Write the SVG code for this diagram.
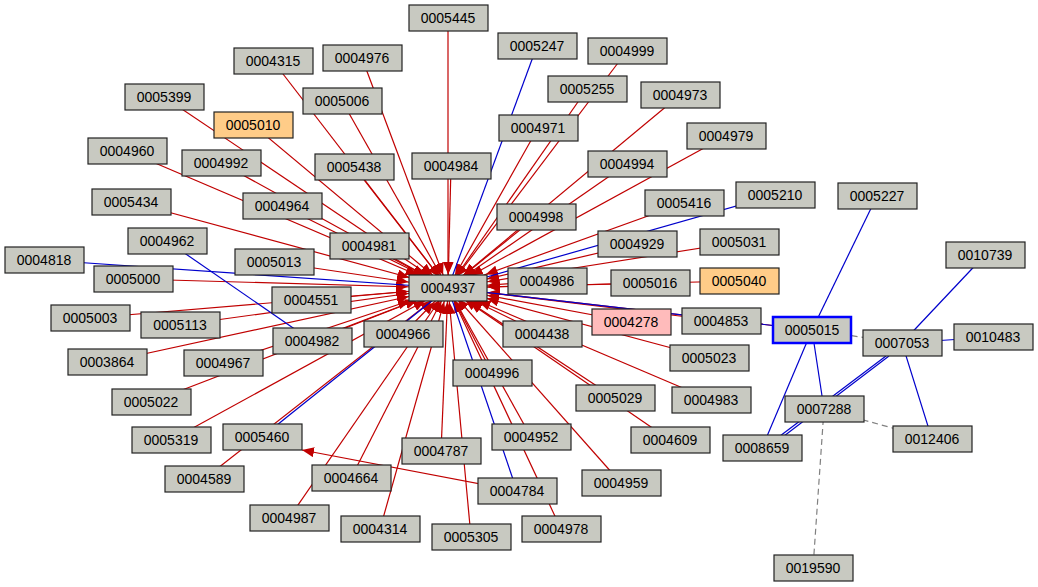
<svg xmlns="http://www.w3.org/2000/svg" width="1038" height="587" viewBox="0 0 1038 587">
<style>
.n rect{fill:#c8c9c1;stroke:#222;stroke-width:1.2}
.n text{font-family:"Liberation Sans",Arial,sans-serif;font-size:14px;text-anchor:middle;fill:#000}
.r{stroke:#c00000;stroke-width:1.2;fill:none}
.b{stroke:#0000cc;stroke-width:1.2;fill:none}
.g{stroke:#808080;stroke-width:1.2;fill:none;stroke-dasharray:6,4}
</style>
<defs>
<marker id="a14" markerUnits="userSpaceOnUse" markerWidth="12" markerHeight="10" refX="26" refY="5" orient="auto"><path d="M0,0L12,5L0,10z" fill="#c00000"/></marker>
<marker id="a20" markerUnits="userSpaceOnUse" markerWidth="12" markerHeight="10" refX="32" refY="5" orient="auto"><path d="M0,0L12,5L0,10z" fill="#c00000"/></marker>
<marker id="a26" markerUnits="userSpaceOnUse" markerWidth="12" markerHeight="10" refX="38" refY="5" orient="auto"><path d="M0,0L12,5L0,10z" fill="#c00000"/></marker>
<marker id="a33" markerUnits="userSpaceOnUse" markerWidth="12" markerHeight="10" refX="45" refY="5" orient="auto"><path d="M0,0L12,5L0,10z" fill="#c00000"/></marker>
<marker id="a40" markerUnits="userSpaceOnUse" markerWidth="12" markerHeight="10" refX="52" refY="5" orient="auto"><path d="M0,0L12,5L0,10z" fill="#c00000"/></marker>
<marker id="a0" markerUnits="userSpaceOnUse" markerWidth="12" markerHeight="10" refX="12" refY="5" orient="auto"><path d="M0,0L12,5L0,10z" fill="#c00000"/></marker>
</defs>
<g id="edges">
<line class="r" x1="448" y1="18" x2="448" y2="288" marker-end="url(#a14)"/>
<line class="r" x1="627" y1="51" x2="448" y2="288" marker-end="url(#a14)"/>
<line class="r" x1="273" y1="61" x2="448" y2="288" marker-end="url(#a14)"/>
<line class="r" x1="362" y1="58" x2="448" y2="288" marker-end="url(#a14)"/>
<line class="r" x1="587" y1="89" x2="448" y2="288" marker-end="url(#a14)"/>
<line class="r" x1="680" y1="95" x2="448" y2="288" marker-end="url(#a20)"/>
<line class="r" x1="164" y1="97" x2="448" y2="288" marker-end="url(#a20)"/>
<line class="r" x1="342" y1="101" x2="448" y2="288" marker-end="url(#a14)"/>
<line class="r" x1="253" y1="125" x2="448" y2="288" marker-end="url(#a20)"/>
<line class="r" x1="538" y1="128" x2="448" y2="288" marker-end="url(#a14)"/>
<line class="r" x1="726" y1="136" x2="448" y2="288" marker-end="url(#a26)"/>
<line class="r" x1="127" y1="151" x2="448" y2="288" marker-end="url(#a33)"/>
<line class="r" x1="221" y1="163" x2="448" y2="288" marker-end="url(#a26)"/>
<line class="r" x1="354" y1="167" x2="448" y2="288" marker-end="url(#a14)"/>
<line class="r" x1="451" y1="166" x2="448" y2="288" marker-end="url(#a14)"/>
<line class="r" x1="627" y1="164" x2="448" y2="288" marker-end="url(#a20)"/>
<line class="r" x1="131" y1="202" x2="448" y2="288" marker-end="url(#a40)"/>
<line class="r" x1="282" y1="206" x2="448" y2="288" marker-end="url(#a26)"/>
<line class="r" x1="684" y1="203" x2="448" y2="288" marker-end="url(#a40)"/>
<line class="r" x1="536" y1="217" x2="448" y2="288" marker-end="url(#a20)"/>
<line class="r" x1="369" y1="246" x2="448" y2="288" marker-end="url(#a26)"/>
<line class="r" x1="637" y1="244" x2="448" y2="288" marker-end="url(#a40)"/>
<line class="r" x1="739" y1="242" x2="448" y2="288" marker-end="url(#a40)"/>
<line class="r" x1="274" y1="262" x2="448" y2="288" marker-end="url(#a40)"/>
<line class="r" x1="133" y1="279" x2="448" y2="288" marker-end="url(#a40)"/>
<line class="r" x1="547" y1="281" x2="448" y2="288" marker-end="url(#a40)"/>
<line class="r" x1="650" y1="283" x2="448" y2="288" marker-end="url(#a40)"/>
<line class="r" x1="739" y1="281" x2="448" y2="288" marker-end="url(#a40)"/>
<line class="r" x1="311" y1="300" x2="448" y2="288" marker-end="url(#a40)"/>
<line class="r" x1="90" y1="318" x2="448" y2="288" marker-end="url(#a40)"/>
<line class="r" x1="180" y1="325" x2="448" y2="288" marker-end="url(#a40)"/>
<line class="r" x1="631" y1="322" x2="448" y2="288" marker-end="url(#a40)"/>
<line class="r" x1="721" y1="321" x2="448" y2="288" marker-end="url(#a40)"/>
<line class="r" x1="812" y1="330" x2="448" y2="288" marker-end="url(#a40)"/>
<line class="r" x1="542" y1="334" x2="448" y2="288" marker-end="url(#a26)"/>
<line class="r" x1="403" y1="334" x2="448" y2="288" marker-end="url(#a20)"/>
<line class="r" x1="312" y1="341" x2="448" y2="288" marker-end="url(#a33)"/>
<line class="r" x1="107" y1="362" x2="448" y2="288" marker-end="url(#a40)"/>
<line class="r" x1="223" y1="363" x2="448" y2="288" marker-end="url(#a40)"/>
<line class="r" x1="709" y1="358" x2="448" y2="288" marker-end="url(#a40)"/>
<line class="r" x1="492" y1="373" x2="448" y2="288" marker-end="url(#a14)"/>
<line class="r" x1="151" y1="402" x2="448" y2="288" marker-end="url(#a33)"/>
<line class="r" x1="615" y1="398" x2="448" y2="288" marker-end="url(#a26)"/>
<line class="r" x1="711" y1="400" x2="448" y2="288" marker-end="url(#a33)"/>
<line class="r" x1="171" y1="440" x2="448" y2="288" marker-end="url(#a26)"/>
<line class="r" x1="531" y1="437" x2="448" y2="288" marker-end="url(#a14)"/>
<line class="r" x1="670" y1="440" x2="448" y2="288" marker-end="url(#a20)"/>
<line class="r" x1="441" y1="451" x2="448" y2="288" marker-end="url(#a14)"/>
<line class="r" x1="204" y1="479" x2="448" y2="288" marker-end="url(#a20)"/>
<line class="r" x1="351" y1="478" x2="448" y2="288" marker-end="url(#a14)"/>
<line class="r" x1="621" y1="483" x2="448" y2="288" marker-end="url(#a14)"/>
<line class="r" x1="289" y1="518" x2="448" y2="288" marker-end="url(#a14)"/>
<line class="r" x1="380" y1="529" x2="448" y2="288" marker-end="url(#a14)"/>
<line class="r" x1="471" y1="537" x2="448" y2="288" marker-end="url(#a14)"/>
<line class="r" x1="561" y1="529" x2="448" y2="288" marker-end="url(#a14)"/>
<line class="r" x1="517" y1="491" x2="302" y2="450" marker-end="url(#a0)"/>
<line class="b" x1="448" y1="288" x2="537" y2="46"/>
<line class="b" x1="448" y1="288" x2="44" y2="260"/>
<line class="b" x1="448" y1="288" x2="775" y2="195"/>
<line class="b" x1="448" y1="288" x2="262" y2="437"/>
<line class="b" x1="448" y1="288" x2="517" y2="491"/>
<line class="b" x1="448" y1="288" x2="812" y2="330"/>
<line class="b" x1="167" y1="241" x2="312" y2="341"/>
<line class="b" x1="812" y1="330" x2="877" y2="196"/>
<line class="b" x1="812" y1="330" x2="762" y2="448"/>
<line class="b" x1="812" y1="330" x2="824" y2="409"/>
<line class="b" x1="902" y1="343" x2="985" y2="255"/>
<line class="b" x1="902" y1="343" x2="993" y2="337"/>
<line class="b" x1="902" y1="343" x2="932" y2="439"/>
<line class="b" x1="886" y1="356" x2="780" y2="436"/>
<line class="b" x1="889" y1="356" x2="784" y2="436"/>
<line class="g" x1="812" y1="330" x2="902" y2="343"/>
<line class="g" x1="824" y1="409" x2="932" y2="439"/>
<line class="g" x1="824" y1="409" x2="813" y2="568"/>
</g>
<g class="n" id="n0005445"><rect x="409" y="5" width="79" height="26"/><text x="448" y="23">0005445</text></g>
<g class="n" id="n0005247"><rect x="498" y="33" width="79" height="26"/><text x="537" y="51">0005247</text></g>
<g class="n" id="n0004999"><rect x="588" y="38" width="79" height="26"/><text x="627" y="56">0004999</text></g>
<g class="n" id="n0004315"><rect x="234" y="48" width="79" height="26"/><text x="273" y="66">0004315</text></g>
<g class="n" id="n0004976"><rect x="323" y="45" width="79" height="26"/><text x="362" y="63">0004976</text></g>
<g class="n" id="n0005255"><rect x="548" y="76" width="79" height="26"/><text x="587" y="94">0005255</text></g>
<g class="n" id="n0004973"><rect x="641" y="82" width="79" height="26"/><text x="680" y="100">0004973</text></g>
<g class="n" id="n0005399"><rect x="125" y="84" width="79" height="26"/><text x="164" y="102">0005399</text></g>
<g class="n" id="n0005006"><rect x="303" y="88" width="79" height="26"/><text x="342" y="106">0005006</text></g>
<g class="n" id="n0005010"><rect x="214" y="112" width="79" height="26" style="fill:#ffcc88"/><text x="253" y="130">0005010</text></g>
<g class="n" id="n0004971"><rect x="499" y="115" width="79" height="26"/><text x="538" y="133">0004971</text></g>
<g class="n" id="n0004979"><rect x="687" y="123" width="79" height="26"/><text x="726" y="141">0004979</text></g>
<g class="n" id="n0004960"><rect x="88" y="138" width="79" height="26"/><text x="127" y="156">0004960</text></g>
<g class="n" id="n0004992"><rect x="182" y="150" width="79" height="26"/><text x="221" y="168">0004992</text></g>
<g class="n" id="n0005438"><rect x="315" y="154" width="79" height="26"/><text x="354" y="172">0005438</text></g>
<g class="n" id="n0004984"><rect x="412" y="153" width="79" height="26"/><text x="451" y="171">0004984</text></g>
<g class="n" id="n0004994"><rect x="588" y="151" width="79" height="26"/><text x="627" y="169">0004994</text></g>
<g class="n" id="n0005434"><rect x="92" y="189" width="79" height="26"/><text x="131" y="207">0005434</text></g>
<g class="n" id="n0004964"><rect x="243" y="193" width="79" height="26"/><text x="282" y="211">0004964</text></g>
<g class="n" id="n0005416"><rect x="645" y="190" width="79" height="26"/><text x="684" y="208">0005416</text></g>
<g class="n" id="n0005210"><rect x="736" y="182" width="79" height="26"/><text x="775" y="200">0005210</text></g>
<g class="n" id="n0005227"><rect x="838" y="183" width="79" height="26"/><text x="877" y="201">0005227</text></g>
<g class="n" id="n0004998"><rect x="497" y="204" width="79" height="26"/><text x="536" y="222">0004998</text></g>
<g class="n" id="n0004962"><rect x="128" y="228" width="79" height="26"/><text x="167" y="246">0004962</text></g>
<g class="n" id="n0004981"><rect x="330" y="233" width="79" height="26"/><text x="369" y="251">0004981</text></g>
<g class="n" id="n0004929"><rect x="598" y="231" width="79" height="26"/><text x="637" y="249">0004929</text></g>
<g class="n" id="n0005031"><rect x="700" y="229" width="79" height="26"/><text x="739" y="247">0005031</text></g>
<g class="n" id="n0010739"><rect x="946" y="242" width="79" height="26"/><text x="985" y="260">0010739</text></g>
<g class="n" id="n0004818"><rect x="5" y="247" width="79" height="26"/><text x="44" y="265">0004818</text></g>
<g class="n" id="n0005013"><rect x="235" y="249" width="79" height="26"/><text x="274" y="267">0005013</text></g>
<g class="n" id="n0005000"><rect x="94" y="266" width="79" height="26"/><text x="133" y="284">0005000</text></g>
<g class="n" id="n0004986"><rect x="508" y="268" width="79" height="26"/><text x="547" y="286">0004986</text></g>
<g class="n" id="n0005016"><rect x="611" y="270" width="79" height="26"/><text x="650" y="288">0005016</text></g>
<g class="n" id="n0005040"><rect x="700" y="268" width="79" height="26" style="fill:#ffcc88"/><text x="739" y="286">0005040</text></g>
<g class="n" id="n0004551"><rect x="272" y="287" width="79" height="26"/><text x="311" y="305">0004551</text></g>
<g class="n" id="n0005003"><rect x="51" y="305" width="79" height="26"/><text x="90" y="323">0005003</text></g>
<g class="n" id="n0005113"><rect x="141" y="312" width="79" height="26"/><text x="180" y="330">0005113</text></g>
<g class="n" id="n0004278"><rect x="592" y="309" width="79" height="26" style="fill:#ffbbbb"/><text x="631" y="327">0004278</text></g>
<g class="n" id="n0004853"><rect x="682" y="308" width="79" height="26"/><text x="721" y="326">0004853</text></g>
<g class="n" id="n0004438"><rect x="503" y="321" width="79" height="26"/><text x="542" y="339">0004438</text></g>
<g class="n" id="n0004966"><rect x="364" y="321" width="79" height="26"/><text x="403" y="339">0004966</text></g>
<g class="n" id="n0004982"><rect x="273" y="328" width="79" height="26"/><text x="312" y="346">0004982</text></g>
<g class="n" id="n0005015"><rect x="773" y="317" width="78" height="26" style="stroke:#0000ff;stroke-width:2.5"/><text x="812" y="335">0005015</text></g>
<g class="n" id="n0007053"><rect x="863" y="330" width="79" height="26"/><text x="902" y="348">0007053</text></g>
<g class="n" id="n0010483"><rect x="954" y="324" width="79" height="26"/><text x="993" y="342">0010483</text></g>
<g class="n" id="n0003864"><rect x="68" y="349" width="79" height="26"/><text x="107" y="367">0003864</text></g>
<g class="n" id="n0004967"><rect x="184" y="350" width="79" height="26"/><text x="223" y="368">0004967</text></g>
<g class="n" id="n0005023"><rect x="670" y="345" width="79" height="26"/><text x="709" y="363">0005023</text></g>
<g class="n" id="n0004996"><rect x="453" y="360" width="79" height="26"/><text x="492" y="378">0004996</text></g>
<g class="n" id="n0005022"><rect x="112" y="389" width="79" height="26"/><text x="151" y="407">0005022</text></g>
<g class="n" id="n0005029"><rect x="576" y="385" width="79" height="26"/><text x="615" y="403">0005029</text></g>
<g class="n" id="n0004983"><rect x="672" y="387" width="79" height="26"/><text x="711" y="405">0004983</text></g>
<g class="n" id="n0007288"><rect x="785" y="396" width="79" height="26"/><text x="824" y="414">0007288</text></g>
<g class="n" id="n0005319"><rect x="132" y="427" width="79" height="26"/><text x="171" y="445">0005319</text></g>
<g class="n" id="n0005460"><rect x="223" y="424" width="79" height="26"/><text x="262" y="442">0005460</text></g>
<g class="n" id="n0004952"><rect x="492" y="424" width="79" height="26"/><text x="531" y="442">0004952</text></g>
<g class="n" id="n0004609"><rect x="631" y="427" width="79" height="26"/><text x="670" y="445">0004609</text></g>
<g class="n" id="n0012406"><rect x="893" y="426" width="79" height="26"/><text x="932" y="444">0012406</text></g>
<g class="n" id="n0008659"><rect x="723" y="435" width="79" height="26"/><text x="762" y="453">0008659</text></g>
<g class="n" id="n0004787"><rect x="402" y="438" width="79" height="26"/><text x="441" y="456">0004787</text></g>
<g class="n" id="n0004589"><rect x="165" y="466" width="79" height="26"/><text x="204" y="484">0004589</text></g>
<g class="n" id="n0004664"><rect x="312" y="465" width="79" height="26"/><text x="351" y="483">0004664</text></g>
<g class="n" id="n0004784"><rect x="478" y="478" width="79" height="26"/><text x="517" y="496">0004784</text></g>
<g class="n" id="n0004959"><rect x="582" y="470" width="79" height="26"/><text x="621" y="488">0004959</text></g>
<g class="n" id="n0004987"><rect x="250" y="505" width="79" height="26"/><text x="289" y="523">0004987</text></g>
<g class="n" id="n0004314"><rect x="341" y="516" width="79" height="26"/><text x="380" y="534">0004314</text></g>
<g class="n" id="n0005305"><rect x="432" y="524" width="79" height="26"/><text x="471" y="542">0005305</text></g>
<g class="n" id="n0004978"><rect x="522" y="516" width="79" height="26"/><text x="561" y="534">0004978</text></g>
<g class="n" id="n0019590"><rect x="774" y="555" width="79" height="26"/><text x="813" y="573">0019590</text></g>
<g class="n" id="n0004937"><rect x="409" y="275" width="78" height="26"/><text x="448" y="293">0004937</text></g>
</svg>
